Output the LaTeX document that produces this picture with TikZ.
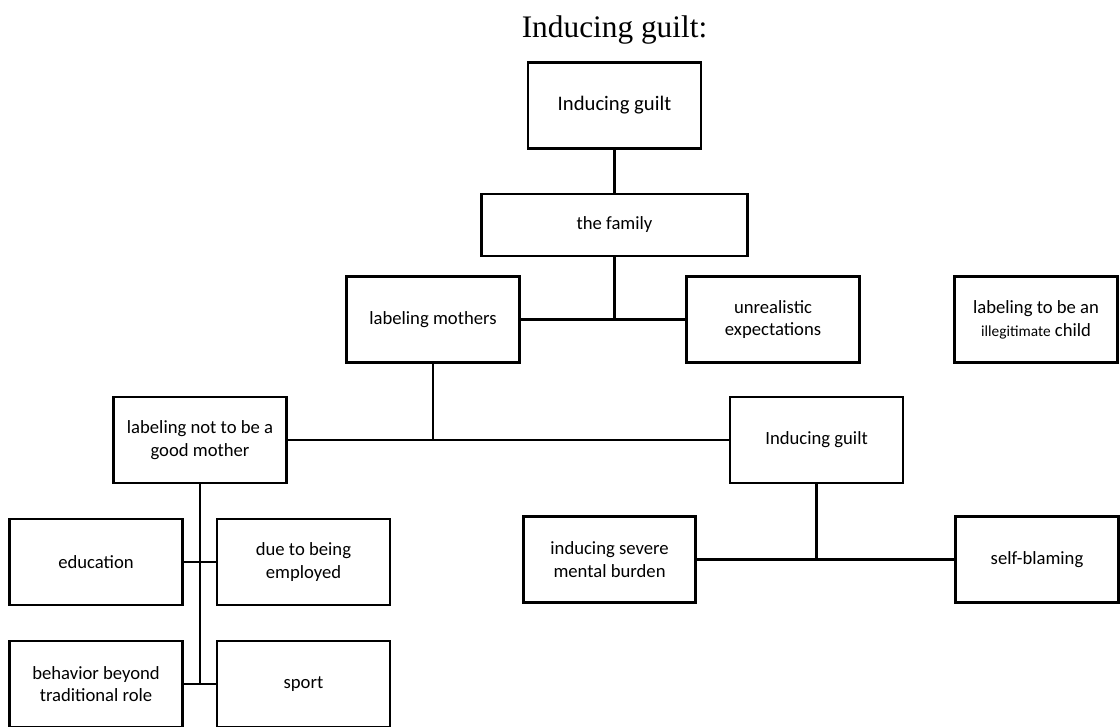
\documentclass[tikz,border=0pt]{standalone}
\usepackage{fontspec}
\setmainfont{Carlito}
\newfontfamily\titlefont{Liberation Serif}
\usepackage{tikz}
\usetikzlibrary{positioning}

\tikzset{
  box/.style={draw, line width=1.9pt, rectangle, align=center, inner sep=0pt,
    minimum width=129.75pt, minimum height=64.5pt, font=\fontsize{14}{17}\selectfont},
  link/.style={line width=1.8pt}
}

\begin{document}
\begin{tikzpicture}[on grid, x=0.75pt, y=0.75pt]
		
		% page frame (top box centre is the origin)
		\useasboundingbox (-614.5,105.5) rectangle (505.5,-620.5);
		
		\node (top) [box, font=\fontsize{15.5}{18}\selectfont] {Inducing guilt};
		\node (title) [above=56.5pt of top, font=\titlefont\fontsize{23.5}{27}\selectfont] {Inducing guilt:};
		\node (family) [box, below=89.6pt of top, minimum width=199.5pt, minimum height=46.5pt] {the family};
		\node (mothers) [box, below left=70.9pt and 136.1pt of family] {labeling mothers};
		\node (unreal) [box, right=255pt of mothers] {unrealistic\\expectations};
		\node (illeg) [box, right=197.25pt of unreal, minimum width=122pt] {labeling to be an\\{\fontsize{11.5}{14}\selectfont illegitimate} child};
		\node (good) [box, below left=90.4pt and 174.75pt of mothers] {labeling not to be a\\good mother};
		\node (guilt) [box, right=462.4pt of good] {Inducing guilt};
		\node (edu) [box, below left=91.5pt and 78pt of good] {education};
		\node (employed) [box, right=155.6pt of edu] {due to being\\employed};
		\node (behavior) [box, below=91.5pt of edu] {behavior beyond\\traditional role};
		\node (sport) [box, right=155.6pt of behavior] {sport};
		\node (burden) [box, below left=89.6pt and 155.25pt of guilt, minimum width=129pt] {inducing severe\\mental burden};
		\node (blame) [box, right=320.6pt of burden, minimum width=122pt] {self-blaming};
		
		\coordinate (j1) at (family.south |- mothers.east);
		\coordinate (j2) at (mothers.south |- good.east);
		\coordinate (j3) at (good.south |- behavior.east);
		\coordinate (j4) at (guilt.south |- burden.east);
		
		\draw [link] (top) -- (family);
		\draw [link] (family) -- (j1);
		\draw [link] (mothers) -- (unreal);
		\draw [link] (mothers) -- (j2);
		\draw [link] (good) -- (guilt);
		\draw [link] (good) -- (j3);
		\draw [link] (edu) -- (employed);
		\draw [link] (behavior) -- (sport);
		\draw [link] (guilt) -- (j4);
		\draw [link] (burden) -- (blame);
		
	\end{tikzpicture}
\end{document}
